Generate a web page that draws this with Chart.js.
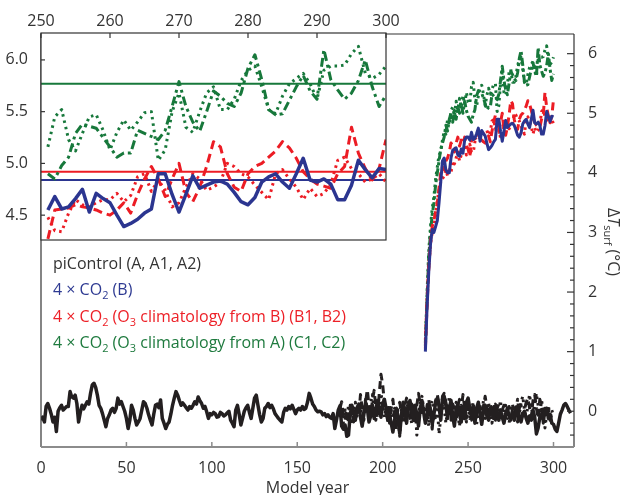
<!DOCTYPE html>
<html lang="en">
<head>
<meta charset="UTF-8">
<title>Surface temperature change</title>
<script src="https://cdn.jsdelivr.net/npm/chart.js"></script>
<style>
  body { margin: 0; background: #fff; }
  #wrap { position: relative; width: 627px; height: 495px; font-family: "Open Sans", sans-serif; }
  #mainChart, #insetChart { position: absolute; left: 0; top: 0; }
  #legend { position: absolute; left: 53px; top: 250px; font-size: 16px; line-height: 26.3px; white-space: nowrap; }
  #legend sub, #ylabel sub { font-size: 11px; vertical-align: -4px; line-height: 0; }
  #ylabel { position: absolute; left: 614px; top: 242px; font-size: 16px; color: #333; white-space: nowrap;
            transform: translate(-50%, -50%) rotate(90deg); }
</style>
</head>
<body>
<div id="wrap">
  <canvas id="mainChart" width="627" height="495"></canvas>
  <canvas id="insetChart" width="406" height="256"></canvas>
  <div id="legend">
    <div style="color:#333">piControl (A, A1, A2)</div>
    <div style="color:#2e3a92">4 × CO<sub>2</sub> (B)</div>
    <div style="color:#ed2027">4 × CO<sub>2</sub> (O<sub>3</sub> climatology from B) (B1, B2)</div>
    <div style="color:#1e7a3e">4 × CO<sub>2</sub> (O<sub>3</sub> climatology from A) (C1, C2)</div>
  </div>
  <div id="ylabel">Δ<i>T</i><sub>surf</sub> (°C)</div>
</div>
<script>
// piControl (A), one value per model year from year 0
const piStart = 0;
const piControl = [
  -0.15,-0.10,-0.18,0.08,0.13,0.05,-0.05,-0.18,-0.10,-0.34,
  0.00,0.06,0.10,0.02,0.05,0.08,0.08,0.33,0.24,0.22,
  0.27,0.13,-0.18,-0.02,0.10,0.04,0.10,0.16,0.12,0.30,
  0.44,0.47,0.40,0.27,0.10,0.05,-0.04,-0.15,-0.26,-0.12,
  -0.06,0.02,0.05,-0.02,0.05,0.22,0.12,0.16,0.08,0.00,
  -0.12,-0.29,-0.15,0.10,0.02,-0.12,-0.23,-0.18,-0.12,0.02,
  0.16,0.13,0.05,-0.06,-0.15,-0.23,-0.05,0.10,0.12,0.06,
  0.19,-0.12,-0.20,-0.29,-0.22,-0.18,-0.05,0.10,0.22,0.33,
  0.27,0.18,0.10,0.14,0.10,0.06,0.02,0.08,0.05,0.10,
  0.16,0.12,0.24,0.18,0.13,0.05,0.08,-0.01,-0.12,-0.04,
  -0.06,-0.02,-0.04,-0.10,-0.09,-0.02,-0.04,-0.08,-0.06,-0.03,
  0.00,-0.15,-0.20,-0.26,0.02,0.10,-0.05,-0.23,-0.12,0.00,
  0.06,0.10,-0.02,-0.12,0.05,0.22,0.27,0.10,-0.06,-0.18,
  -0.12,0.05,0.08,0.13,0.06,0.10,0.04,-0.04,-0.08,-0.12,
  -0.15,-0.18,-0.02,0.05,0.02,0.08,0.04,0.10,0.03,-0.04,
  0.02,0.05,0.02,0.08,0.03,0.05,0.15,0.30,0.22,0.12,
  0.08,0.02,-0.01,0.00,-0.01,-0.06,-0.04,-0.09,-0.06,-0.10,
  -0.12,-0.04,-0.29,-0.14,0.02,0.09,-0.25,-0.30,-0.23,-0.42,
  -0.40,-0.05,0.10,-0.02,-0.15,0.05,0.12,-0.10,-0.25,-0.05,
  0.15,0.05,-0.18,-0.08,0.10,-0.12,0.02,0.18,0.05,-0.10,
  0.12,0.20,0.05,-0.15,-0.05,-0.20,-0.35,-0.15,0.05,-0.10,
  -0.38,-0.05,0.15,0.02,-0.20,0.08,0.18,0.00,-0.15,0.10,
  -0.05,-0.25,0.05,0.18,-0.02,-0.20,-0.10,0.12,0.02,-0.22,
  -0.05,0.15,0.22,0.08,-0.15,0.20,0.25,0.10,-0.12,0.05,
  0.18,-0.08,-0.25,0.05,0.12,-0.05,-0.18,0.08,-0.12,0.15,
  0.22,0.05,-0.10,0.08,-0.20,0.05,0.15,-0.05,-0.22,0.00,
  0.10,-0.08,-0.15,0.05,-0.02,-0.12,0.08,-0.05,-0.15,0.02,
  -0.10,-0.20,-0.05,0.05,-0.08,-0.12,-0.02,-0.15,-0.05,0.08,
  -0.10,-0.18,-0.05,0.00,-0.12,-0.20,-0.08,-0.15,0.02,-0.10,
  -0.38,-0.28,-0.10,-0.05,-0.15,-0.02,0.05,-0.12,-0.05,-0.20,
  -0.22,-0.30,-0.34,-0.20,-0.05,0.02,0.10,0.13,0.08,0.02,
  -0.03
];

// piControl branches A1 (dashed) and A2 (dotted), from year 175
const branchStart = 175;
const piControlA1 = [
  0.05,0.16,-0.05,-0.15,0.02,-0.20,0.10,0.05,-0.18,0.00,
  0.12,-0.08,0.28,0.05,-0.15,0.15,0.36,0.10,-0.05,0.18,
  0.35,0.08,-0.12,0.30,0.62,0.45,0.15,-0.05,0.10,-0.20,
  0.05,0.20,-0.10,-0.25,0.08,0.15,-0.05,-0.18,0.10,0.22,
  0.00,-0.12,0.12,0.05,-0.20,0.10,0.30,0.12,-0.08,0.05,
  -0.15,0.10,0.20,-0.05,-0.30,0.02,0.18,0.28,0.12,-0.10,
  0.25,0.30,0.15,-0.05,0.10,-0.15,0.12,0.05,-0.18,0.10,
  0.20,0.02,0.28,0.05,-0.12,0.15,0.08,-0.15,0.10,0.02,
  -0.10,0.12,0.05,-0.15,0.08,0.25,0.05,-0.10,0.12,-0.05,
  0.08,-0.15,0.05,0.12,-0.08,0.02,0.10,-0.12,0.00,0.08,
  -0.15,0.05,0.12,-0.05,-0.18,0.05,0.10,-0.08,0.02,0.15,
  0.22,0.05,-0.10,0.18,0.28,0.05,-0.12,0.20,0.10,-0.20,
  0.05,-0.08,0.02,-0.15,-0.05,0.00
];
const piControlA2 = [
  -0.10,0.08,-0.20,0.02,-0.12,0.10,-0.05,-0.22,0.05,0.15,
  -0.08,0.00,0.12,-0.18,0.05,0.20,0.00,-0.12,0.15,0.28,
  0.05,-0.15,0.10,0.02,0.30,0.12,-0.10,0.05,-0.18,0.10,
  0.00,-0.12,0.05,-0.30,-0.10,-0.42,0.05,0.10,-0.15,0.02,
  0.15,-0.05,-0.20,0.05,0.12,-0.40,-0.10,0.15,0.25,0.05,
  -0.12,0.02,-0.25,0.10,0.18,-0.05,-0.15,0.08,-0.38,-0.10,
  0.12,0.05,-0.20,0.00,0.25,0.08,-0.15,0.05,0.15,-0.05,
  -0.25,0.10,-0.02,0.12,-0.18,0.05,-0.12,0.02,0.15,-0.10,
  -0.22,0.00,0.10,-0.05,0.18,-0.12,0.02,0.15,-0.08,-0.20,
  0.05,0.12,-0.10,0.02,0.18,-0.15,0.05,0.10,-0.05,-0.20,
  0.02,0.12,-0.08,0.05,0.20,-0.05,0.15,0.25,0.02,-0.12,
  0.10,0.28,0.05,-0.08,0.12,0.30,0.10,-0.05,0.18,0.02,
  -0.28,-0.05,0.10,-0.12,0.02,-0.08
];

// 4xCO2 experiments, one value per model year from year 225 to 300
const co2Start = 225;
const co2B = [
  1.00,1.75,2.35,2.80,3.05,3.00,3.10,3.20,3.50,3.85,
  4.20,4.25,4.05,4.00,4.00,4.25,4.38,4.40,4.42,4.30,
  4.28,4.40,4.33,4.55,4.60,4.60,
  4.55,4.68,4.56,4.58,4.66,4.75,4.53,4.71,4.66,4.62,
  4.50,4.39,4.42,4.46,4.52,4.56,4.90,4.90,4.70,4.53,
  4.70,4.88,4.76,4.79,4.82,4.83,4.80,4.72,4.63,4.60,
  4.67,4.82,4.87,4.90,4.82,4.76,4.90,5.05,4.84,4.82,
  4.85,4.80,4.65,4.65,4.79,5.03,4.94,4.86,4.95,4.94
];
const co2B1 = [
  1.05,1.80,2.40,2.85,3.10,3.20,3.35,3.50,3.75,4.00,
  4.10,4.05,4.20,4.25,4.35,4.50,4.45,4.35,4.50,4.60,
  4.45,4.55,4.50,4.60,4.45,4.40,
  4.27,4.55,4.56,4.57,4.60,4.58,4.57,4.55,4.52,4.50,
  4.55,4.62,4.52,4.70,4.85,4.97,4.85,4.68,4.85,5.00,
  4.72,4.63,4.77,4.97,5.21,5.16,4.90,4.77,4.73,4.90,
  4.97,5.00,5.06,5.12,5.21,5.15,5.05,4.92,4.85,4.80,
  4.78,4.76,4.90,4.97,5.35,5.10,4.95,4.84,4.95,5.23
];
const co2B2 = [
  1.20,1.90,2.45,2.80,3.00,3.10,3.30,3.55,3.70,3.85,
  3.90,3.95,4.05,3.95,4.10,4.00,4.20,4.15,4.25,4.35,
  4.20,4.30,4.40,4.45,4.30,4.35,
  4.48,4.35,4.34,4.52,4.65,4.60,4.58,4.62,4.65,4.65,
  4.71,4.63,4.69,4.87,4.90,4.73,4.84,4.74,4.58,4.62,
  4.77,4.90,4.85,4.74,4.77,4.82,5.00,4.97,4.90,4.87,
  4.79,4.72,4.65,4.90,4.94,4.85,4.77,4.65,4.76,4.68,
  4.71,4.80,5.03,5.06,4.95,4.90,4.82,4.85,4.90,4.82
];
const co2C1 = [
  1.10,1.90,2.60,3.00,3.30,3.50,3.80,4.00,4.20,4.40,
  4.50,4.60,4.80,4.70,4.90,5.00,4.85,5.05,4.90,5.10,
  5.00,5.15,5.00,5.20,5.05,4.95,
  4.90,4.85,4.98,5.06,5.29,5.38,5.36,5.34,5.25,5.16,
  5.06,5.10,5.10,5.32,5.29,5.26,5.23,5.32,5.55,5.79,
  5.55,5.40,5.31,5.50,5.70,5.65,5.58,5.55,5.68,5.92,
  6.05,5.81,5.52,5.47,5.48,5.61,5.74,5.85,5.70,5.62,
  6.10,5.81,5.71,5.62,5.68,5.80,6.00,5.74,5.55,5.66
];
const co2C2 = [
  1.15,2.00,2.70,3.10,3.40,3.60,3.90,4.10,4.30,4.35,
  4.55,4.70,4.65,4.90,4.80,5.05,5.10,4.95,5.20,5.05,
  5.25,5.10,5.30,5.15,5.35,5.20,
  5.16,5.45,5.52,5.23,5.12,5.29,5.45,5.47,5.32,5.13,
  5.30,5.42,5.32,5.40,5.49,5.50,5.03,5.13,5.50,5.68,
  5.35,5.30,5.50,5.68,5.74,5.52,5.52,5.62,5.80,5.90,
  5.94,5.74,5.52,5.48,5.65,5.77,5.82,5.87,5.77,5.62,
  5.90,5.94,5.94,5.95,6.06,6.13,5.87,5.82,5.86,5.94
];

// means over years 251-300 shown as flat lines in the inset
const meanB = 4.84;
const meanB1B2 = 4.92;
const meanC1C2 = 5.77;

// tick labels
const mainXTicks = [0, 50, 100, 150, 200, 250, 300];
const mainYTicks = [0, 1, 2, 3, 4, 5, 6];
const insetXTicks = [250, 260, 270, 280, 290, 300];
const insetYTicks = [4.5, 5.0, 5.5, 6.0];

const BLUE = '#2b3590', RED = '#ec1c24', GREEN = '#17783b', BLACK = '#231f20';
const FONT = { family: '"Open Sans", sans-serif', size: 16 };

function toPoints(start, values, from) {
  const pts = values.map((v, i) => ({ x: start + i, y: v }));
  return from === undefined ? pts : pts.filter(p => p.x >= from);
}

function line(ctx, x1, y1, x2, y2) {
  ctx.beginPath(); ctx.moveTo(x1, y1); ctx.lineTo(x2, y2); ctx.stroke();
}

// frame and inward tick marks for the main plot
const mainFrame = {
  id: 'mainFrame',
  afterDraw(chart) {
    const { ctx, chartArea: a, scales } = chart;
    ctx.save();
    ctx.strokeStyle = '#8c8c8c';
    ctx.lineWidth = 1.5;
    mainXTicks.forEach(v => {
      if (v === 0) return;
      const px = scales.x.getPixelForValue(v);
      line(ctx, px, a.bottom, px, a.bottom - 5);
    });
    ctx.strokeStyle = '#333';
    ctx.lineWidth = 1.2;
    for (let k = -3; k <= 30; k++) {
      const py = scales.y.getPixelForValue(k / 5);
      const len = k % 5 === 0 ? 7 : 4;
      line(ctx, a.right - len, py, a.right, py);
    }
    line(ctx, a.left, a.top, a.right, a.top);
    line(ctx, a.left, a.top, a.left, a.bottom);
    line(ctx, a.right, a.top, a.right, a.bottom);
    ctx.strokeStyle = '#8c8c8c';
    ctx.lineWidth = 2;
    line(ctx, a.left, a.bottom, a.right, a.bottom);
    ctx.restore();
  }
};

const insetFrame = {
  id: 'insetFrame',
  beforeDatasetsDraw(chart) {
    const { ctx, chartArea: a } = chart;
    ctx.save();
    ctx.fillStyle = '#fff';
    ctx.fillRect(a.left, a.top, a.right - a.left, a.bottom - a.top);
    ctx.restore();
  },
  afterDraw(chart) {
    const { ctx, chartArea: a, scales } = chart;
    ctx.save();
    ctx.strokeStyle = '#333';
    ctx.lineWidth = 1.2;
    insetXTicks.forEach(v => {
      const px = scales.x.getPixelForValue(v);
      line(ctx, px, a.top, px, a.top + 5);
    });
    insetYTicks.forEach(v => {
      const py = scales.y.getPixelForValue(v);
      line(ctx, a.left, py, a.left + 4, py);
    });
    ctx.strokeRect(a.left, a.top, a.right - a.left, a.bottom - a.top);
    ctx.restore();
  }
};

const lineDefaults = { pointRadius: 0, tension: 0, fill: false, borderJoinStyle: 'round' };

new Chart(document.getElementById('mainChart'), {
  type: 'line',
  data: {
    datasets: [
      { ...lineDefaults, data: toPoints(co2Start, co2B), borderColor: BLUE, borderWidth: 3 },
      { ...lineDefaults, data: toPoints(co2Start, co2B1), borderColor: RED, borderWidth: 3, borderDash: [8, 5] },
      { ...lineDefaults, data: toPoints(co2Start, co2B2), borderColor: RED, borderWidth: 3, borderDash: [2.5, 4] },
      { ...lineDefaults, data: toPoints(co2Start, co2C1), borderColor: GREEN, borderWidth: 3, borderDash: [8, 3, 3, 3] },
      { ...lineDefaults, data: toPoints(co2Start, co2C2), borderColor: GREEN, borderWidth: 3, borderDash: [2.5, 4] },
      { ...lineDefaults, data: toPoints(piStart, piControl), borderColor: BLACK, borderWidth: 3.5 },
      { ...lineDefaults, data: toPoints(branchStart, piControlA1), borderColor: BLACK, borderWidth: 3, borderDash: [8, 5] },
      { ...lineDefaults, data: toPoints(branchStart, piControlA2), borderColor: BLACK, borderWidth: 3, borderDash: [2.5, 4] }
    ]
  },
  options: {
    responsive: false,
    animation: false,
    devicePixelRatio: 1,
    layout: { padding: { left: 41, top: 34, right: 0, bottom: 0 } },
    plugins: { legend: { display: false }, tooltip: { enabled: false } },
    scales: {
      x: {
        type: 'linear', position: 'bottom', min: 0, max: 312,
        grid: { display: false }, border: { display: false },
        afterBuildTicks: s => { s.ticks = mainXTicks.map(v => ({ value: v })); },
        afterFit: s => { s.height = 48; },
        ticks: { font: FONT, color: '#333', padding: 4, maxRotation: 0, autoSkip: false },
        title: { display: true, text: 'Model year', font: FONT, color: '#333', padding: { top: 0, bottom: -3 } }
      },
      y: {
        type: 'linear', position: 'right', min: -0.6, max: 6.33,
        grid: { display: false }, border: { display: false },
        afterBuildTicks: s => { s.ticks = mainYTicks.map(v => ({ value: v })); },
        afterFit: s => { s.width = 53; },
        ticks: { font: FONT, color: '#333', padding: 6 }
      }
    }
  },
  plugins: [mainFrame]
});

new Chart(document.getElementById('insetChart'), {
  type: 'line',
  data: {
    datasets: [
      { ...lineDefaults, data: toPoints(co2Start, co2B, 251), borderColor: BLUE, borderWidth: 3.5 },
      { ...lineDefaults, data: toPoints(co2Start, co2B1, 251), borderColor: RED, borderWidth: 3, borderDash: [9, 5] },
      { ...lineDefaults, data: toPoints(co2Start, co2B2, 251), borderColor: RED, borderWidth: 3, borderDash: [2.5, 4] },
      { ...lineDefaults, data: toPoints(co2Start, co2C1, 251), borderColor: GREEN, borderWidth: 3, borderDash: [9, 4, 3, 4] },
      { ...lineDefaults, data: toPoints(co2Start, co2C2, 251), borderColor: GREEN, borderWidth: 3, borderDash: [2.5, 4] },
      { ...lineDefaults, data: [{ x: 250, y: meanB }, { x: 300, y: meanB }], borderColor: BLUE, borderWidth: 2 },
      { ...lineDefaults, data: [{ x: 250, y: meanB1B2 }, { x: 300, y: meanB1B2 }], borderColor: RED, borderWidth: 2 },
      { ...lineDefaults, data: [{ x: 250, y: meanC1C2 }, { x: 300, y: meanC1C2 }], borderColor: GREEN, borderWidth: 2 }
    ]
  },
  options: {
    responsive: false,
    animation: false,
    devicePixelRatio: 1,
    layout: { padding: { left: 0, top: 0, right: 20, bottom: 16 } },
    plugins: { legend: { display: false }, tooltip: { enabled: false } },
    scales: {
      x: {
        type: 'linear', position: 'top', min: 250, max: 300,
        grid: { display: false }, border: { display: false },
        afterBuildTicks: s => { s.ticks = insetXTicks.map(v => ({ value: v })); },
        afterFit: s => { s.height = 33; },
        ticks: { font: FONT, color: '#333', padding: -6, maxRotation: 0, autoSkip: false }
      },
      y: {
        type: 'linear', position: 'left', min: 4.26, max: 6.26,
        grid: { display: false }, border: { display: false },
        afterBuildTicks: s => { s.ticks = insetYTicks.map(v => ({ value: v })); },
        afterFit: s => { s.width = 41; },
        ticks: { font: FONT, color: '#333', padding: 5, callback: v => v.toFixed(1) }
      }
    }
  },
  plugins: [insetFrame]
});
</script>
</body>
</html>
